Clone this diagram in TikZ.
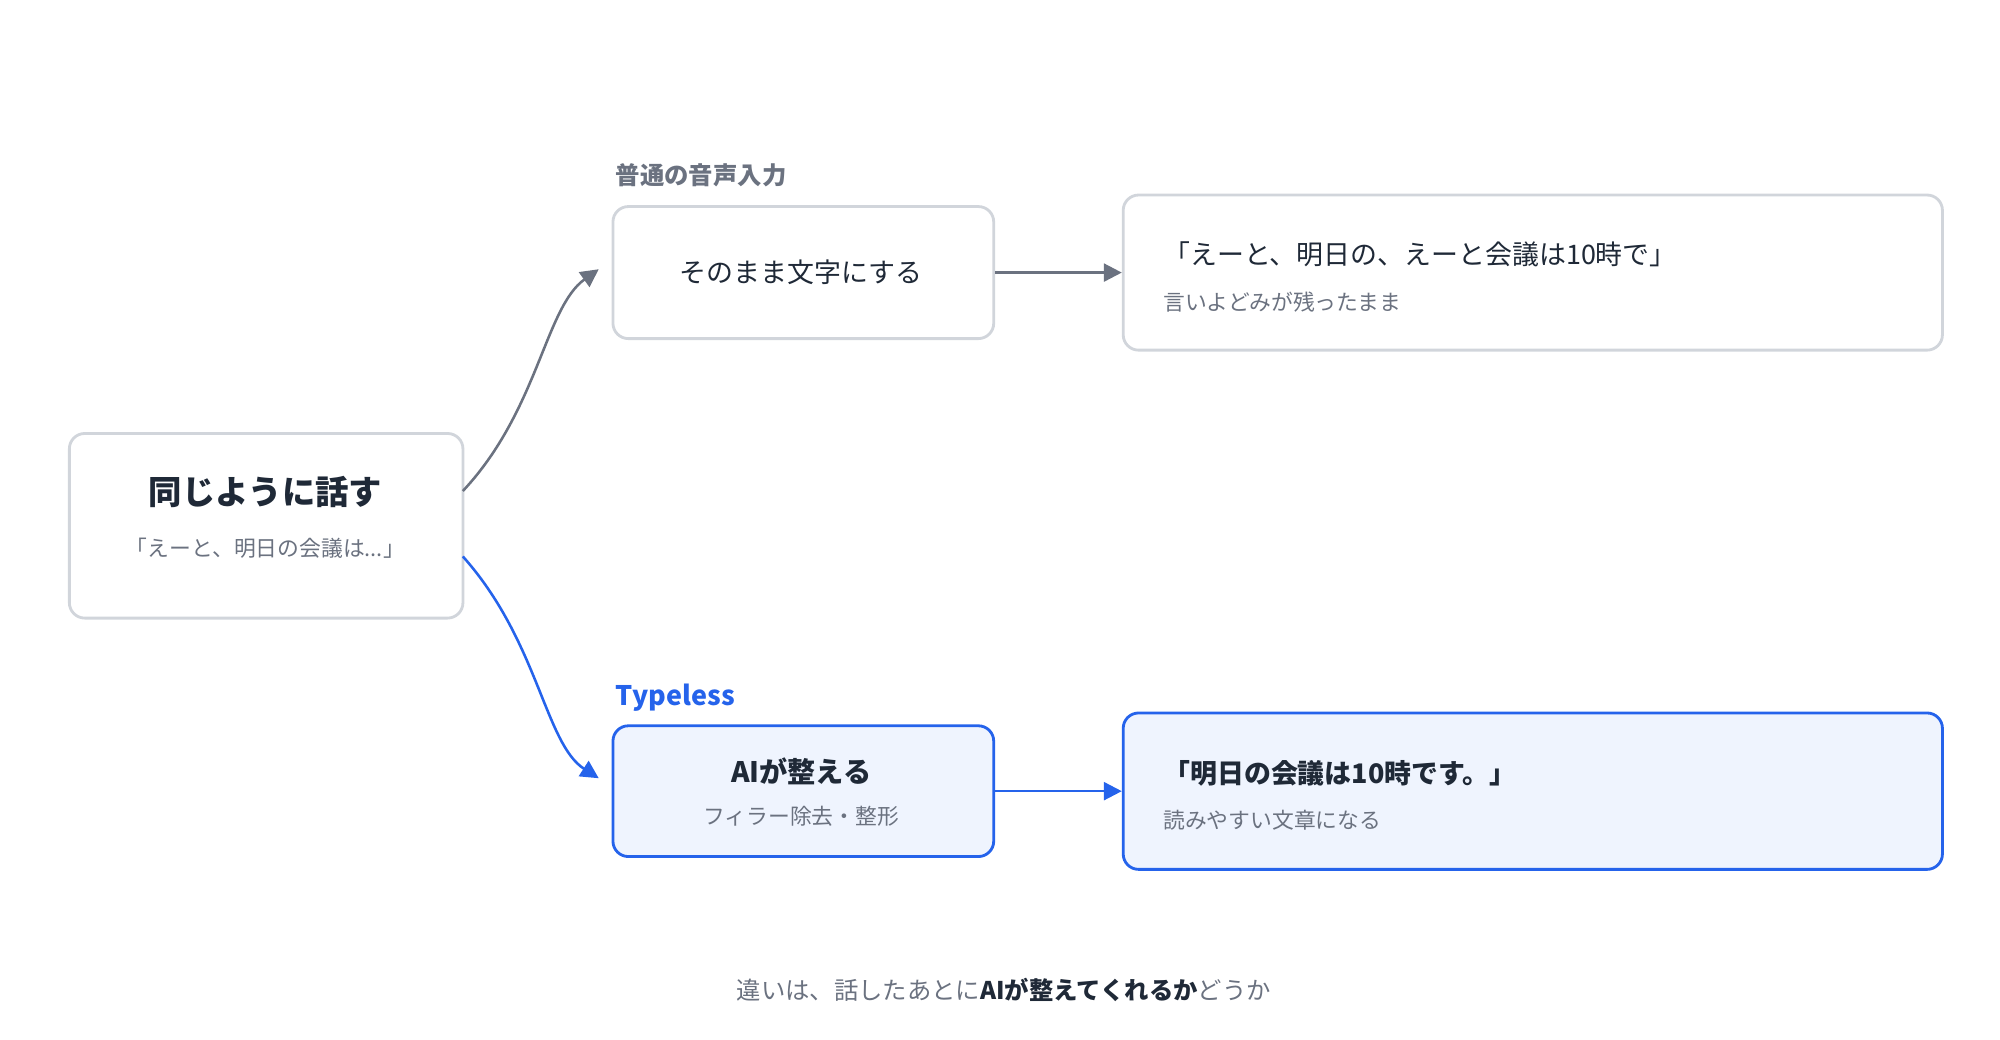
\documentclass[tikz,border=0pt]{standalone}
\usepackage{fontspec}
\setmainfont{Noto Sans CJK JP}
\usetikzlibrary{arrows.meta}
\definecolor{dark}{HTML}{1F2937}
\definecolor{mgray}{HTML}{6B7280}
\definecolor{bgray}{HTML}{D1D5DB}
\definecolor{tblue}{HTML}{2563EB}
\definecolor{lblue}{HTML}{EFF4FE}
\tikzset{
 box/.style={draw=bgray,line width=1.1pt,rounded corners=6pt,fill=white,inner sep=0pt},
 bbox/.style={draw=tblue,line width=1.1pt,rounded corners=6pt,fill=lblue,inner sep=0pt},
 ttl/.style={text=dark,inner sep=0pt},
 sub/.style={text=mgray,inner sep=0pt},
 garrow/.style={draw=mgray,line width=1pt,-{Triangle[length=7pt,width=7pt]}},
 barrow/.style={draw=tblue,line width=1pt,-{Triangle[length=7pt,width=7pt]}},
}
\begin{document}
\begin{tikzpicture}[x=0.5pt,y=-0.5pt]
\useasboundingbox (0,0) rectangle (1560,811);
% boxes
\node[box,minimum width=153.5pt,minimum height=72pt,anchor=north west] (src) at (53,337) {};
\node[box,minimum width=148.5pt,minimum height=51.5pt,anchor=north west] (plain) at (477,160) {};
\node[box,minimum width=319.5pt,minimum height=60.5pt,anchor=north west] (raw) at (875,151) {};
\node[bbox,minimum width=148.5pt,minimum height=51pt,anchor=north west] (ai) at (477,565) {};
\node[bbox,minimum width=319.5pt,minimum height=61pt,anchor=north west] (clean) at (875,555) {};
% texts
\node[ttl,font=\fontsize{13}{15}\selectfont\bfseries] (srcT) at (207,384) {同じように話す};
\node[sub,font=\fontsize{8.5}{10}\selectfont] (srcS) at (207,428) {「えーと、明日の会議は...」};
\node[sub,font=\fontsize{9.5}{11}\selectfont\bfseries,anchor=west] (lab1) at (480,137) {普通の音声入力};
\node[ttl,font=\fontsize{10.5}{12}\selectfont] (plainT) at (625,212) {そのまま文字にする};
\node[ttl,font=\fontsize{10.5}{12}\selectfont,anchor=west] (rawT) at (907,198) {「えーと、明日の、えーと会議は10時で」};
\node[sub,font=\fontsize{8.5}{10}\selectfont,anchor=west] (rawS) at (907,236) {言いよどみが残ったまま};
\node[text=tblue,inner sep=0pt,font=\fontsize{10.5}{12}\selectfont\bfseries,anchor=west] (lab2) at (480,544) {Typeless};
\node[ttl,font=\fontsize{11}{13}\selectfont\bfseries] (aiT) at (625,602) {AIが整える};
\node[sub,font=\fontsize{8.5}{10}\selectfont] (aiS) at (625,637) {フィラー除去・整形};
\node[ttl,font=\fontsize{10.5}{12}\selectfont\bfseries,anchor=west] (cleanT) at (907,603) {「明日の会議は10時です。」};
\node[sub,font=\fontsize{8.5}{10}\selectfont,anchor=west] (cleanS) at (907,640) {読みやすい文章になる};
\node[sub,font=\fontsize{9.5}{11}\selectfont] (foot) at (783,772) {違いは、話したあとに\textcolor{dark}{\bfseries AIが整えてくれるか}どうか};
% connectors
\coordinate (s1) at (361,383);
\coordinate (s2) at (361,434);
\coordinate (e1) at (467,210);
\coordinate (e2) at (467,607);
\draw[garrow] (s1) .. controls (420,320) and (425,240) .. (e1);
\draw[barrow] (s2) .. controls (420,500) and (425,580) .. (e2);
\draw[garrow] (plain.east) -- (raw.west);
\draw[barrow] (ai.east) -- (clean.west);
\end{tikzpicture}
\end{document}
